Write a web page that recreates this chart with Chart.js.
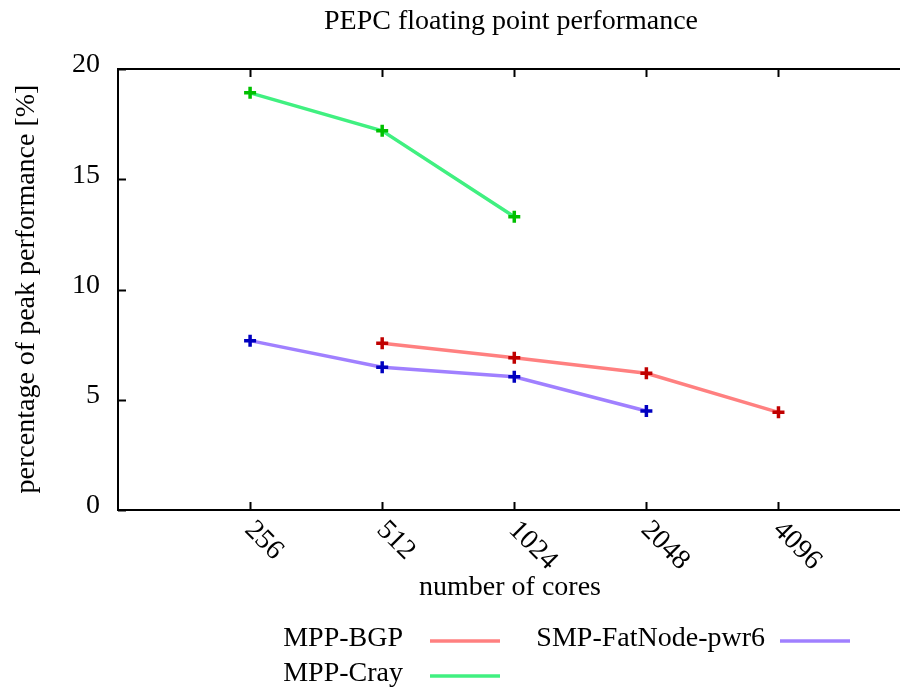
<!DOCTYPE html>
<html>
<head>
<meta charset="utf-8">
<script src="https://cdn.jsdelivr.net/npm/chart.js@4"></script>
<style>
html,body{margin:0;padding:0;background:#fff;overflow:hidden;}
#wrap{width:900px;height:688px;position:relative;overflow:hidden;}
</style>
</head>
<body>
<div id="wrap"><canvas id="c" width="900" height="688"></canvas></div>
<script>
const categories = ["256", "512", "1024", "2048", "4096"];
const yTicks = [0, 5, 10, 15, 20];
const seriesNames = ["MPP-BGP", "MPP-Cray", "SMP-FatNode-pwr6"];
const bgpValues = [null, 7.56, 6.90, 6.20, 4.43];
const crayValues = [18.92, 17.20, 13.30, null, null];
const fatNodeValues = [7.68, 6.47, 6.04, 4.49, null];

const FONT = '"Liberation Serif", "Times New Roman", serif';
const FS = 28;

function pts(vals) {
  const out = [];
  vals.forEach((v, i) => { if (v !== null) out.push({x: i, y: v}); });
  return out;
}

const lineColors = ['#ff8080', '#40f080', '#a080ff'];
const markColors = ['#c00000', '#00c000', '#0000c0'];
const vals = [bgpValues, crayValues, fatNodeValues];

const datasets = seriesNames.map((n, i) => ({
  label: n,
  data: pts(vals[i]),
  borderColor: lineColors[i],
  backgroundColor: markColors[i],
  borderWidth: 3.5,
  pointStyle: 'cross',
  pointRadius: 6,
  pointBorderWidth: 3.5,
  pointBorderColor: markColors[i],
  pointHoverRadius: 6,
  tension: 0,
  spanGaps: false,
  clip: false
}));

const decor = {
  id: 'decor',
  afterDraw(chart) {
    const ctx = chart.ctx;
    const a = chart.chartArea;
    const xs = chart.scales.x, ys = chart.scales.y;
    ctx.save();
    ctx.strokeStyle = '#000';
    ctx.lineWidth = 2;
    ctx.beginPath();
    ctx.moveTo(905, a.top); ctx.lineTo(a.left, a.top); ctx.lineTo(a.left, a.bottom); ctx.lineTo(905, a.bottom);
    ctx.stroke();
    categories.forEach((c, i) => {
      const px = Math.round(xs.getPixelForValue(i)) + 0.5;
      ctx.beginPath();
      ctx.moveTo(px, a.bottom); ctx.lineTo(px, a.bottom - 8);
      ctx.moveTo(px, a.top); ctx.lineTo(px, a.top + 8);
      ctx.stroke();
    });
    yTicks.forEach(v => {
      const py = Math.round(ys.getPixelForValue(v)) + 0.5;
      ctx.beginPath();
      ctx.moveTo(a.left, py); ctx.lineTo(a.left + 8, py);
      ctx.stroke();
    });
    ctx.fillStyle = '#000';
    ctx.font = FS + 'px ' + FONT;
    ctx.textAlign = 'right';
    ctx.textBaseline = 'middle';
    yTicks.forEach(v => {
      const py = ys.getPixelForValue(v);
      ctx.fillText(String(v), 100, py - 4);
    });
    categories.forEach((c, i) => {
      const px = xs.getPixelForValue(i);
      ctx.save();
      ctx.translate(px + 3, 530);
      ctx.rotate(Math.PI / 4);
      ctx.textAlign = 'left';
      ctx.textBaseline = 'middle';
      ctx.fillText(c, -6, 0);
      ctx.restore();
    });
    ctx.textAlign = 'center';
    ctx.textBaseline = 'middle';
    ctx.fillText('PEPC floating point performance', 511, 22);
    ctx.fillText('number of cores', 510, 588);
    ctx.save();
    ctx.translate(27, 289);
    ctx.rotate(-Math.PI / 2);
    ctx.fillText('percentage of peak performance [%]', 0, 0);
    ctx.restore();
    const legendPos = [
      {tx: 403, y: 641, x1: 430, x2: 500},
      {tx: 403, y: 676, x1: 430, x2: 500},
      {tx: 765, y: 641, x1: 780, x2: 850}
    ];
    chart.data.datasets.forEach((d, i) => {
      const p = legendPos[i];
      ctx.textAlign = 'right';
      ctx.textBaseline = 'middle';
      ctx.fillStyle = '#000';
      ctx.fillText(d.label, p.tx, p.y - 2);
      ctx.strokeStyle = d.borderColor;
      ctx.lineWidth = 3.5;
      ctx.beginPath();
      ctx.moveTo(p.x1, p.y); ctx.lineTo(p.x2, p.y);
      ctx.stroke();
    });
    ctx.restore();
  }
};

new Chart(document.getElementById('c'), {
  type: 'line',
  data: { datasets },
  options: {
    responsive: false,
    animation: false,
    layout: { autoPadding: false, padding: { left: 118, top: 69, right: 0, bottom: 178 } },
    plugins: { legend: { display: false }, tooltip: { enabled: false }, title: { display: false } },
    scales: {
      x: { type: 'linear', display: false, min: -1, max: 4.92 },
      y: { type: 'linear', display: false, min: 0, max: 20 }
    }
  },
  plugins: [decor]
});
</script>
</body>
</html>
